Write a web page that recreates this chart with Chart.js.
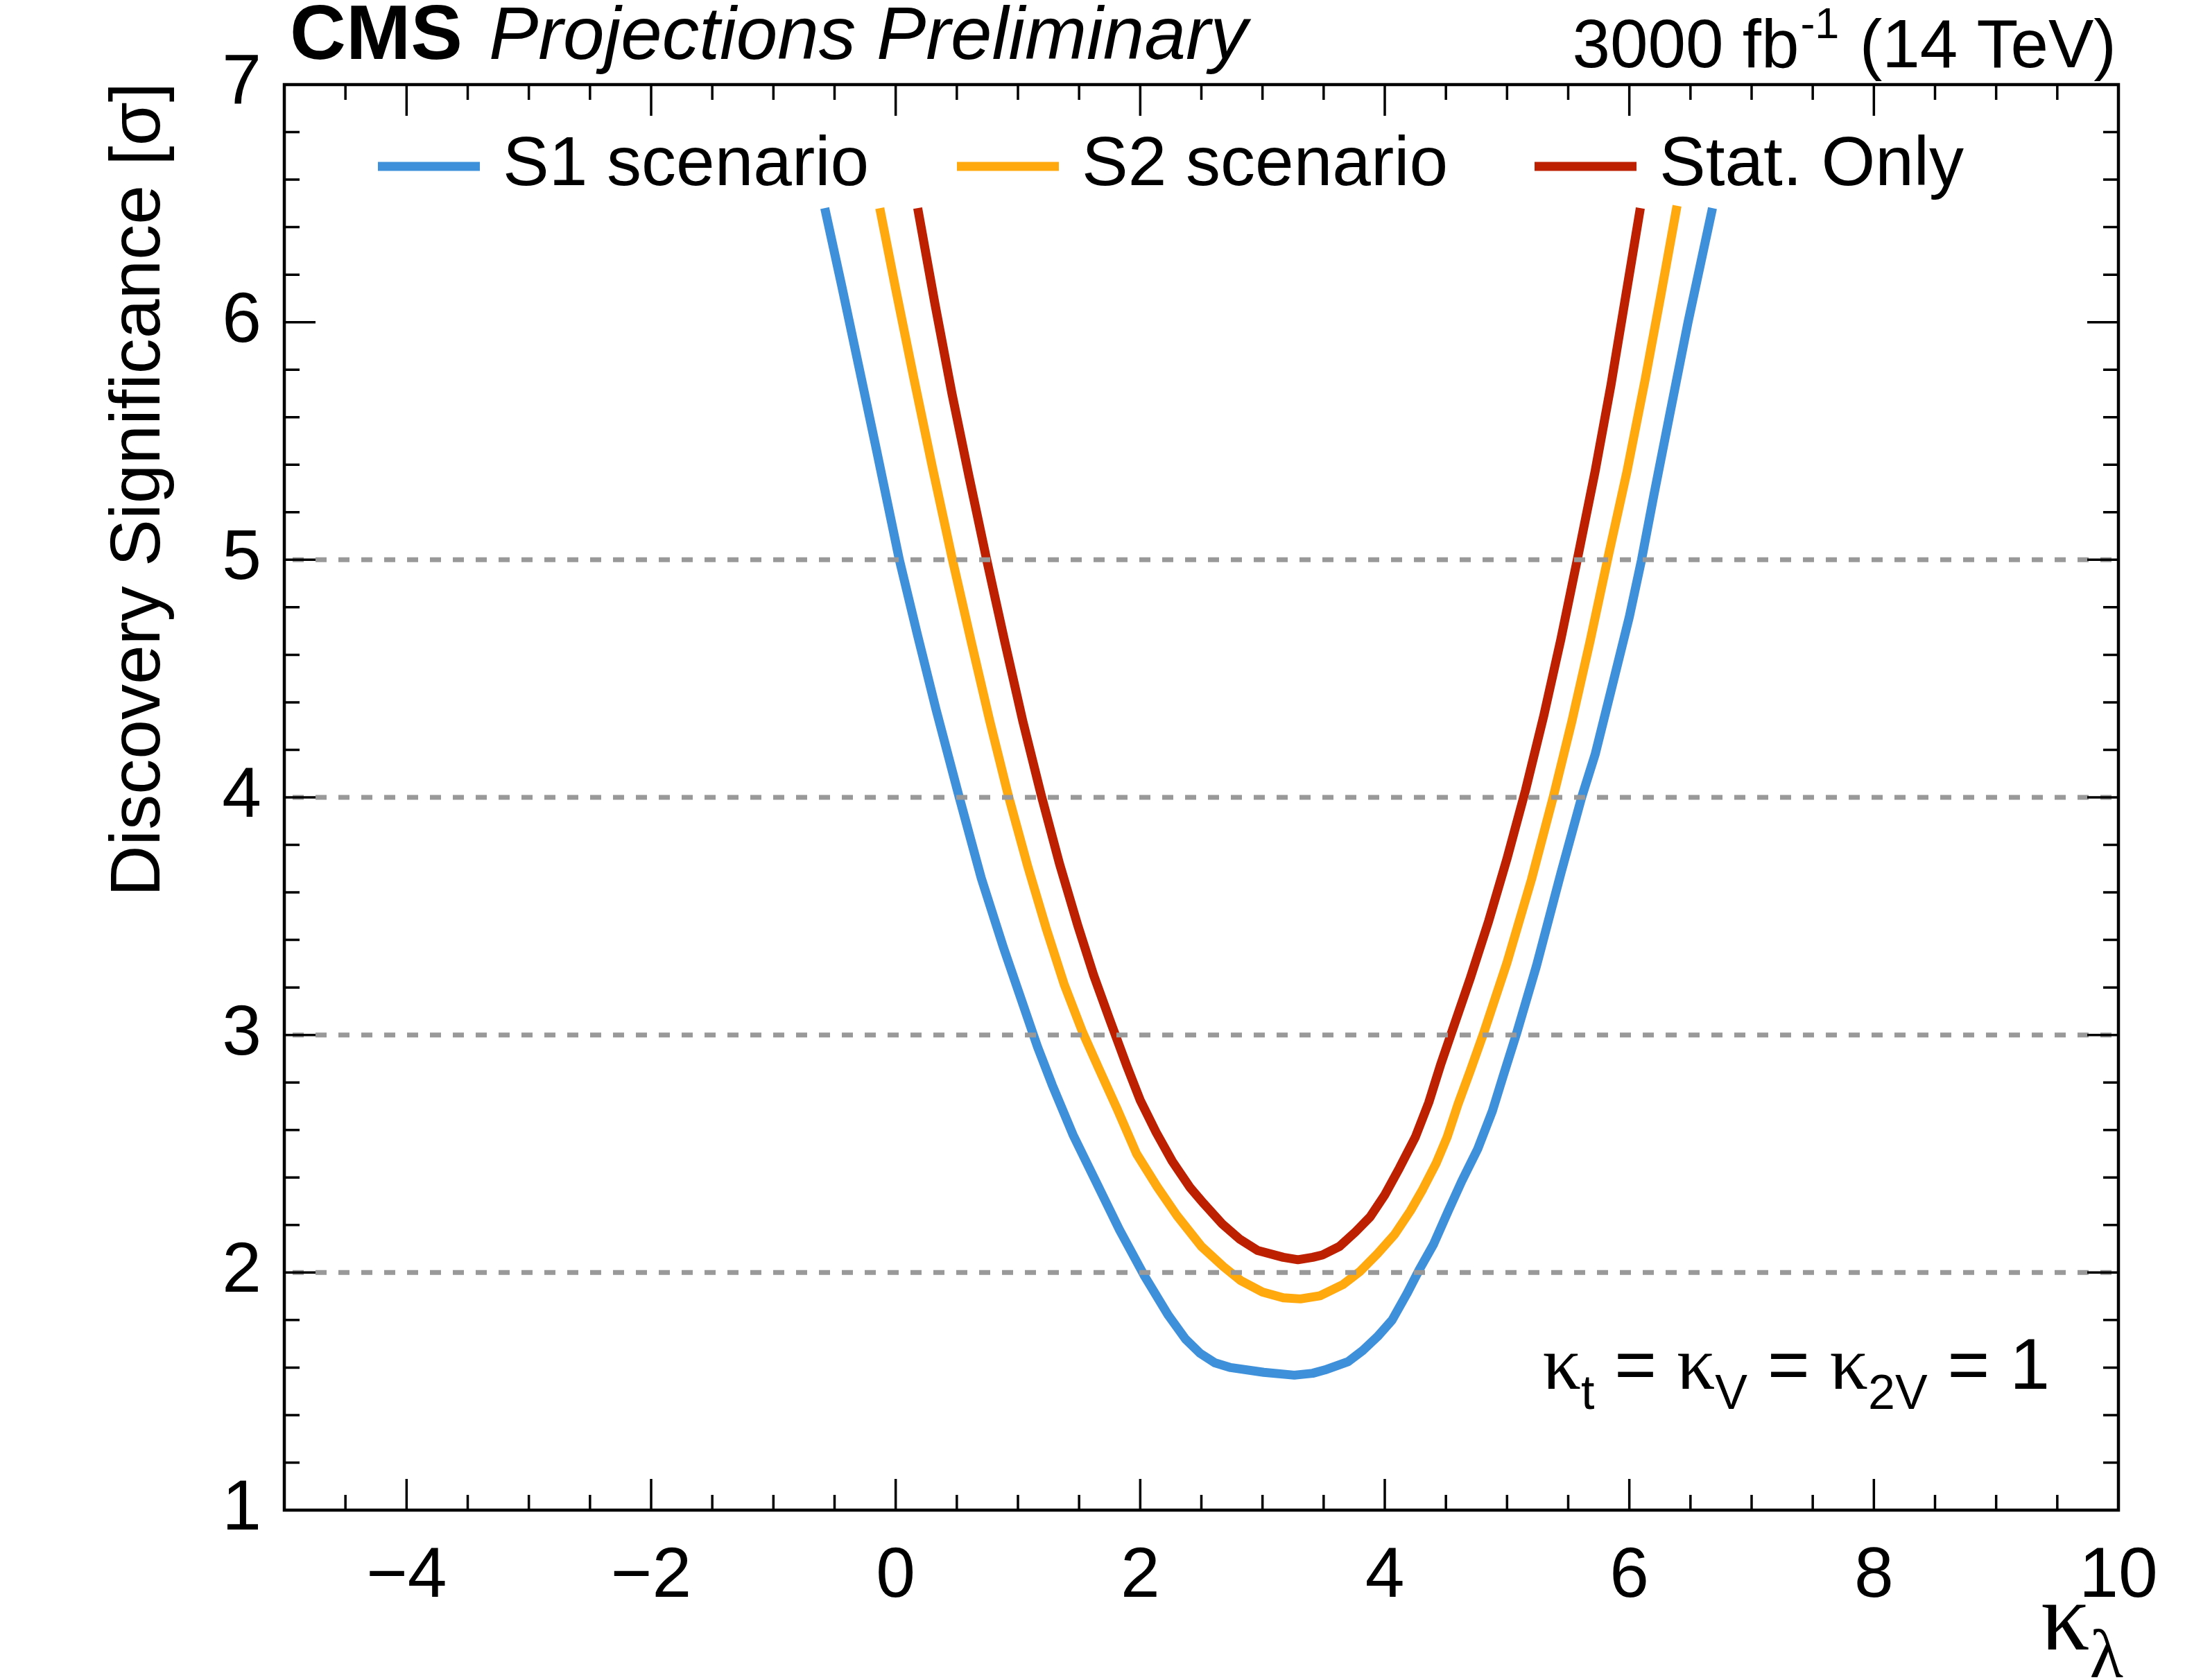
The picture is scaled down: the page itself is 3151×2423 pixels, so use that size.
<!DOCTYPE html>
<html>
<head>
<meta charset="utf-8">
<script src="https://cdn.jsdelivr.net/npm/chart.js@4.4.1/dist/chart.umd.min.js"></script>
<style>
  html, body { margin: 0; padding: 0; background: #ffffff; }
  #wrap { width: 3151px; height: 2423px; position: relative; }
  canvas { display: block; }
</style>
</head>
<body>
<div id="wrap"><canvas id="c" width="3151" height="2423" style="width:3151px;height:2423px"></canvas></div>
<script>
// ---------------- data ----------------
const SERIES_LABELS = ["S1 scenario", "S2 scenario", "Stat. Only"];
const SERIES_COLORS = ["#3f90da", "#ffa90e", "#bd1f01"];

const S1_X = [-0.58, -0.44, -0.30, -0.16, 0.03, 0.18, 0.33, 0.52, 0.70, 0.88, 1.04, 1.16, 1.28, 1.45, 1.65, 1.83, 2.03, 2.23, 2.37, 2.49, 2.61, 2.74, 3.01, 3.26, 3.41, 3.51, 3.70, 3.82, 3.94, 4.06, 4.18, 4.28, 4.40, 4.52, 4.63, 4.76, 4.88, 4.97, 5.08, 5.24, 5.44, 5.61, 5.72, 5.87, 6.00, 6.10, 6.20, 6.33, 6.48, 6.68];
const S1_Y = [6.48, 6.15, 5.81, 5.47, 5.00, 4.68, 4.37, 4.00, 3.66, 3.37, 3.13, 2.95, 2.79, 2.58, 2.37, 2.18, 1.99, 1.82, 1.72, 1.66, 1.62, 1.60, 1.58, 1.568, 1.576, 1.59, 1.625, 1.672, 1.73, 1.80, 1.91, 2.01, 2.12, 2.26, 2.385, 2.52, 2.68, 2.83, 3.01, 3.29, 3.68, 4.00, 4.18, 4.49, 4.76, 5.00, 5.27, 5.61, 6.00, 6.48];

const S2_X = [-0.13, 0.00, 0.15, 0.30, 0.46, 0.62, 0.77, 0.92, 1.08, 1.23, 1.38, 1.53, 1.66, 1.81, 1.97, 2.14, 2.30, 2.50, 2.68, 2.82, 3.00, 3.17, 3.31, 3.47, 3.66, 3.80, 3.94, 4.08, 4.21, 4.31, 4.42, 4.51, 4.60, 4.70, 4.81, 5.00, 5.20, 5.38, 5.53, 5.68, 5.83, 5.98, 6.13, 6.26, 6.39];
const S2_Y = [6.48, 6.14, 5.76, 5.39, 5.01, 4.65, 4.32, 4.01, 3.71, 3.45, 3.21, 3.01, 2.86, 2.69, 2.50, 2.36, 2.24, 2.11, 2.025, 1.967, 1.918, 1.894, 1.889, 1.902, 1.95, 2.006, 2.079, 2.16, 2.26, 2.35, 2.46, 2.57, 2.71, 2.85, 3.01, 3.305, 3.655, 4.006, 4.32, 4.66, 5.02, 5.37, 5.76, 6.12, 6.49];

const STAT_X = [0.18, 0.32, 0.46, 0.60, 0.74, 0.89, 1.04, 1.19, 1.34, 1.49, 1.62, 1.75, 1.89, 2.00, 2.13, 2.26, 2.41, 2.52, 2.67, 2.81, 2.96, 3.17, 3.29, 3.41, 3.49, 3.63, 3.76, 3.88, 4.00, 4.12, 4.25, 4.36, 4.46, 4.54, 4.70, 4.85, 5.00, 5.15, 5.30, 5.44, 5.58, 5.72, 5.85, 5.97, 6.09];
const STAT_Y = [6.48, 6.08, 5.70, 5.35, 5.01, 4.66, 4.32, 4.01, 3.72, 3.46, 3.25, 3.065, 2.87, 2.725, 2.59, 2.47, 2.356, 2.29, 2.205, 2.142, 2.093, 2.064, 2.054, 2.064, 2.074, 2.11, 2.171, 2.234, 2.327, 2.44, 2.57, 2.716, 2.88, 3.00, 3.24, 3.48, 3.743, 4.028, 4.343, 4.665, 5.015, 5.372, 5.736, 6.108, 6.48];

const X_TICK_LABELS = [-4, -2, 0, 2, 4, 6, 8, 10];
const Y_TICK_LABELS = [1, 2, 3, 4, 5, 6, 7];
const REFERENCE_LEVELS = [2, 3, 4, 5];

const X_RANGE = [-5, 10];
const Y_RANGE = [1, 7];
const X_MINOR_STEP = 0.5, X_MAJOR_STEP = 2;
const Y_MINOR_STEP = 0.2, Y_MAJOR_STEP = 1;

// ---------------- styling ----------------
const SANS = '"Liberation Sans", Arial, Helvetica, sans-serif';
const SERIF = '"Liberation Serif", "DejaVu Serif", "Times New Roman", serif';

function pts(xs, ys) { return xs.map((x, i) => ({ x: x, y: ys[i] })); }
function fmt(v) { return v < 0 ? '\u2212' + Math.abs(v) : String(v); }

const decor = {
  id: 'decor',
  afterDatasetsDraw(chart) {
    const { ctx, chartArea: a, scales } = chart;
    const y = scales.y;
    ctx.save();
    ctx.strokeStyle = '#999999';
    ctx.lineWidth = 7;
    ctx.setLineDash([16, 17]);
    REFERENCE_LEVELS.forEach(v => {
      const py = y.getPixelForValue(v);
      ctx.beginPath();
      ctx.moveTo(a.left + 12, py);
      ctx.lineTo(a.right, py);
      ctx.stroke();
    });
    ctx.restore();
  },
  afterDraw(chart) {
    const { ctx, chartArea: a, scales } = chart;
    const x = scales.x, y = scales.y;
    ctx.save();
    // ticks (inward, all four sides)
    ctx.strokeStyle = '#000';
    ctx.lineWidth = 3.5;
    ctx.beginPath();
    const nx = Math.round((X_RANGE[1] - X_RANGE[0]) / X_MINOR_STEP);
    for (let i = 0; i <= nx; i++) {
      const v = X_RANGE[0] + i * X_MINOR_STEP;
      const major = Math.abs(v / X_MAJOR_STEP - Math.round(v / X_MAJOR_STEP)) < 1e-6;
      const len = major ? 45 : 22;
      const px = x.getPixelForValue(v);
      ctx.moveTo(px, a.bottom); ctx.lineTo(px, a.bottom - len);
      ctx.moveTo(px, a.top); ctx.lineTo(px, a.top + len);
    }
    const ny = Math.round((Y_RANGE[1] - Y_RANGE[0]) / Y_MINOR_STEP);
    for (let i = 0; i <= ny; i++) {
      const v = Y_RANGE[0] + i * Y_MINOR_STEP;
      const major = Math.abs(v / Y_MAJOR_STEP - Math.round(v / Y_MAJOR_STEP)) < 1e-6;
      const len = major ? 45 : 22;
      const py = y.getPixelForValue(v);
      ctx.moveTo(a.left, py); ctx.lineTo(a.left + len, py);
      ctx.moveTo(a.right, py); ctx.lineTo(a.right - len, py);
    }
    ctx.stroke();
    // frame
    ctx.lineWidth = 4.5;
    ctx.strokeRect(a.left, a.top, a.right - a.left, a.bottom - a.top);

    ctx.fillStyle = '#000';
    ctx.textBaseline = 'alphabetic';

    // CMS header
    ctx.textAlign = 'left';
    ctx.font = 'bold 112px ' + SANS;
    ctx.fillText('CMS', 418, 85);
    const wCMS = ctx.measureText('CMS').width;
    ctx.font = 'italic 107px ' + SANS;
    ctx.fillText('Projections Preliminary', 418 + wCMS + 38, 85);

    // luminosity label (right aligned)
    const big = '98px ' + SANS, sup = '63px ' + SANS;
    const p1 = '3000 fb', p2 = '-1', p3 = ' (14 TeV)';
    ctx.font = big; const w1 = ctx.measureText(p1).width; const w3 = ctx.measureText(p3).width;
    ctx.font = sup; const w2 = ctx.measureText(p2).width;
    let xs = 3052 - (w1 + w2 + w3 + 4);
    ctx.font = big; ctx.fillText(p1, xs, 97); xs += w1 + 2;
    ctx.font = sup; ctx.fillText(p2, xs, 55); xs += w2 + 2;
    ctx.font = big; ctx.fillText(p3, xs, 97);

    // legend
    const legX = [545, 1380, 2213];
    chart.data.datasets.forEach((ds, i) => {
      ctx.strokeStyle = ds.borderColor;
      ctx.lineWidth = 13;
      ctx.setLineDash([]);
      ctx.beginPath();
      ctx.moveTo(legX[i], 240); ctx.lineTo(legX[i] + 147, 240);
      ctx.stroke();
      ctx.fillStyle = '#000';
      ctx.font = '100px ' + SANS;
      ctx.textAlign = 'left';
      ctx.fillText(ds.label, legX[i] + 180, 267);
    });

    // y-axis title (rotated, aligned to top of axis)
    ctx.save();
    ctx.translate(230, a.top - 3);
    ctx.rotate(-Math.PI / 2);
    ctx.textAlign = 'right';
    ctx.font = '102px ' + SANS;
    ctx.fillText('Discovery Significance [\u03c3]', 0, 0);
    ctx.restore();

    // x-axis title kappa_lambda (right aligned)
    ctx.textAlign = 'left';
    ctx.font = '140px ' + SERIF; const wk = ctx.measureText('\u03ba').width;
    ctx.font = '100px ' + SERIF; const wl = ctx.measureText('\u03bb').width;
    let xk = 3062 - wk - wl;
    ctx.font = '140px ' + SERIF; ctx.fillText('\u03ba', xk, 2379);
    ctx.font = '100px ' + SERIF; ctx.fillText('\u03bb', xk + wk, 2419);

    // annotation kappa_t = kappa_V = kappa_2V = 1 (right aligned)
    const parts = [
      ['\u03ba', '110px ' + SERIF, 2003],
      ['t', '70px ' + SANS, 2032],
      [' = ', '104px ' + SANS, 2003],
      ['\u03ba', '110px ' + SERIF, 2003],
      ['V', '70px ' + SANS, 2032],
      [' = ', '104px ' + SANS, 2003],
      ['\u03ba', '110px ' + SERIF, 2003],
      ['2V', '70px ' + SANS, 2032],
      [' = 1', '104px ' + SANS, 2003]
    ];
    let total = 0;
    parts.forEach(p => { ctx.font = p[1]; total += ctx.measureText(p[0]).width; });
    let xa = 2956 - total;
    parts.forEach(p => { ctx.font = p[1]; ctx.fillText(p[0], xa, p[2]); xa += ctx.measureText(p[0]).width; });

    ctx.restore();
  }
};

const chart = new Chart(document.getElementById('c'), {
  type: 'scatter',
  data: {
    datasets: [
      { label: SERIES_LABELS[0], data: pts(S1_X, S1_Y), borderColor: SERIES_COLORS[0], backgroundColor: SERIES_COLORS[0] },
      { label: SERIES_LABELS[1], data: pts(S2_X, S2_Y), borderColor: SERIES_COLORS[1], backgroundColor: SERIES_COLORS[1] },
      { label: SERIES_LABELS[2], data: pts(STAT_X, STAT_Y), borderColor: SERIES_COLORS[2], backgroundColor: SERIES_COLORS[2] }
    ].map(d => Object.assign(d, { showLine: true, borderWidth: 13, pointRadius: 0, tension: 0, fill: false, borderJoinStyle: 'round' }))
  },
  options: {
    responsive: false,
    devicePixelRatio: 1,
    animation: false,
    events: [],
    layout: { padding: { top: 122, right: 96, left: 0, bottom: 0 } },
    plugins: { legend: { display: false }, title: { display: false }, tooltip: { enabled: false } },
    scales: {
      x: {
        type: 'linear', min: X_RANGE[0], max: X_RANGE[1],
        grid: { display: false }, border: { display: false },
        afterBuildTicks: s => { s.ticks = X_TICK_LABELS.map(v => ({ value: v })); },
        afterFit: s => { s.height = 245; },
        ticks: { autoSkip: false, maxRotation: 0, minRotation: 0, padding: 28, color: '#000',
                 font: { family: SANS, size: 102 }, callback: v => fmt(v) }
      },
      y: {
        type: 'linear', min: Y_RANGE[0], max: Y_RANGE[1],
        grid: { display: false }, border: { display: false },
        afterBuildTicks: s => { s.ticks = Y_TICK_LABELS.map(v => ({ value: v })); },
        afterFit: s => { s.width = 410; },
        ticks: { autoSkip: false, padding: 25, color: '#000',
                 font: { family: SANS, size: 102 }, callback: v => fmt(v) }
      }
    }
  },
  plugins: [decor]
});
</script>
</body>
</html>
